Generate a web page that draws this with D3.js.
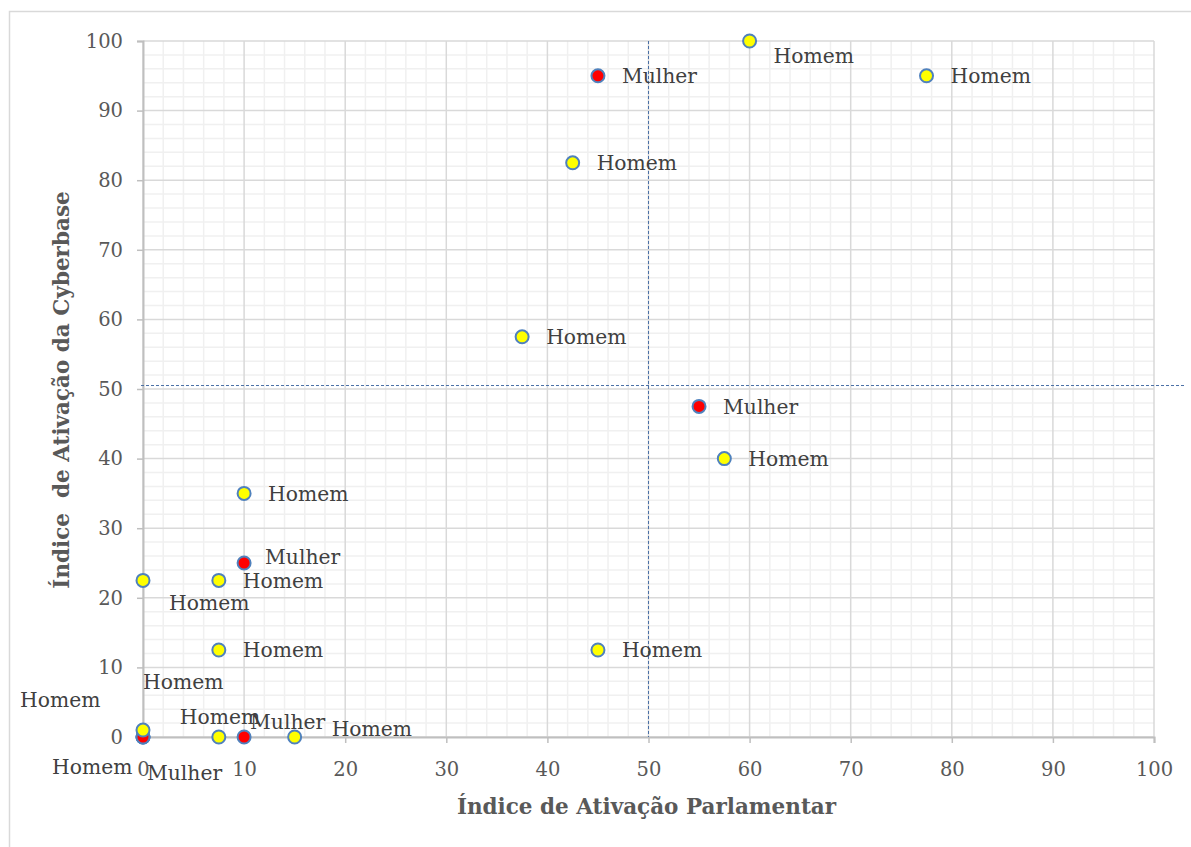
<!DOCTYPE html>
<meta charset="utf-8">
<style>
body{
  margin:0;
  background:#fff;
}
text{
  font-family:"DejaVu Serif", serif;
}
</style>
<body>
<script src="https://d3js.org/d3.v7.min.js"></script>
<script>
// points, drawn in this order (later ones on top)
var xValues = [60, 45, 77.5, 42.5, 37.5, 55, 57.5, 10, 10, 0, 7.5, 7.5, 45, 0, 0, 0, 0, 7.5, 10, 15];
var yValues = [100, 95, 95, 82.5, 57.5, 47.5, 40, 35, 25, 22.5, 22.5, 12.5, 12.5, 0, 0, 0, 1, 0, 0, 0];
var genders = ["Homem", "Mulher", "Homem", "Homem", "Homem", "Mulher", "Homem", "Homem", "Mulher", "Homem",
               "Homem", "Homem", "Homem", "Homem", "Homem", "Mulher", "Homem", "Homem", "Mulher", "Homem"];
// hand moved data labels (px, from the default right position)
var labelNudge = [[0,15],[0,0],[0,0],[0,0],[0,0],[0,0],[0,0],[0,0],[-3,-6],[2,22],
                  [0,0],[0,0],[0,0],[-147,-37],[-115,30],[-20,36],[-24,-48],[-63,-20],[-18,-15],[13,-8]];
var xTicks = [0, 10, 20, 30, 40, 50, 60, 70, 80, 90, 100];
var yTicks = [0, 10, 20, 30, 40, 50, 60, 70, 80, 90, 100];
var refX = 50;
var refY = 50.5;
var xTitle = "Índice de Ativação Parlamentar";
var yTitle = "Índice  de Ativação da Cyberbase";

var w = 1191, h = 847;
var pLeft = 143, pRight = 1154, pTop = 41, pBottom = 737;

var svg = d3.select("body")
  .append("svg")
  .attr("width", w)
  .attr("height", h);

// chart area border
svg.append("rect")
  .attr("x", 9.5)
  .attr("y", 11.5)
  .attr("width", w)
  .attr("height", h)
  .attr("fill", "none")
  .attr("stroke", "#d9d9d9")
  .attr("stroke-width", 1.5);

var x = d3.scaleLinear().domain([0, 100]).range([pLeft, pRight]);
var y = d3.scaleLinear().domain([0, 100]).range([pBottom, pTop]);

var minor = d3.range(0, 101, 2).filter(function(d) { return d % 10 != 0; });

//minor grid
svg.append("g").selectAll("line")
  .data(minor).enter().append("line")
  .attr("x1", function(d) { return x(d); })
  .attr("x2", function(d) { return x(d); })
  .attr("y1", pTop).attr("y2", pBottom)
  .attr("stroke", "#f0f0f0").attr("stroke-width", 1.5);
svg.append("g").selectAll("line")
  .data(minor).enter().append("line")
  .attr("y1", function(d) { return y(d); })
  .attr("y2", function(d) { return y(d); })
  .attr("x1", pLeft).attr("x2", pRight)
  .attr("stroke", "#f0f0f0").attr("stroke-width", 1.5);

//major grid
svg.append("g").selectAll("line")
  .data(xTicks).enter().append("line")
  .attr("x1", function(d) { return x(d); })
  .attr("x2", function(d) { return x(d); })
  .attr("y1", pTop).attr("y2", pBottom)
  .attr("stroke", "#d9d9d9").attr("stroke-width", 1.5);
svg.append("g").selectAll("line")
  .data(yTicks).enter().append("line")
  .attr("y1", function(d) { return y(d); })
  .attr("y2", function(d) { return y(d); })
  .attr("x1", pLeft).attr("x2", pRight)
  .attr("stroke", "#d9d9d9").attr("stroke-width", 1.5);

//axes
var xAxis = svg.append("g")
  .attr("transform", "translate(0," + pBottom + ")")
  .call(d3.axisBottom(x).tickValues(xTicks).tickSize(6).tickPadding(19));
var yAxis = svg.append("g")
  .attr("transform", "translate(" + pLeft + ",0)")
  .call(d3.axisLeft(y).tickValues(yTicks).tickSize(6).tickPadding(14));

[xAxis, yAxis].forEach(function(a) {
  a.select(".domain").attr("stroke", "#bfbfbf").attr("stroke-width", 2);
  a.selectAll(".tick line").attr("stroke", "#bfbfbf").attr("stroke-width", 1.5);
  a.selectAll(".tick text")
    .attr("fill", "#595959")
    .style("font-size", "19.5px")
    .style("font-family", "DejaVu Serif");
});

//dashed reference lines
svg.append("line")
  .attr("x1", x(refX)).attr("x2", x(refX))
  .attr("y1", pTop).attr("y2", pBottom)
  .attr("stroke", "#4a6fa5").attr("stroke-width", 1)
  .attr("stroke-dasharray", "3,2");
svg.append("line")
  .attr("x1", pLeft - 2).attr("x2", pRight + 30)
  .attr("y1", y(refY)).attr("y2", y(refY))
  .attr("stroke", "#4a6fa5").attr("stroke-width", 1)
  .attr("stroke-dasharray", "3,2");

var data = xValues.map(function(d, i) {
  return {x: d, y: yValues[i], g: genders[i], n: labelNudge[i]};
});

svg.append("g").selectAll("circle")
  .data(data).enter().append("circle")
  .attr("cx", function(d) { return x(d.x); })
  .attr("cy", function(d) { return y(d.y); })
  .attr("r", 6.5)
  .attr("fill", function(d) { return d.g == "Mulher" ? "#ff0000" : "#ffff00"; })
  .attr("stroke", "#4f81bd")
  .attr("stroke-width", 2);

svg.append("g").selectAll("text")
  .data(data).enter().append("text")
  .attr("x", function(d) { return x(d.x) + 24 + d.n[0]; })
  .attr("y", function(d) { return y(d.y) + d.n[1]; })
  .attr("dy", "0.35em")
  .attr("fill", "#404040")
  .style("font-size", "20.3px")
  .text(function(d) { return d.g; });

//axis titles
svg.append("text")
  .attr("x", (pLeft + pRight) / 2 - 2)
  .attr("y", 806)
  .attr("dy", "0.35em")
  .attr("text-anchor", "middle")
  .attr("fill", "#595959")
  .style("font-size", "21.5px")
  .style("font-weight", "bold")
  .text(xTitle);

svg.append("text")
  .attr("transform", "translate(61,390) rotate(-90)")
  .attr("dy", "0.35em")
  .attr("text-anchor", "middle")
  .attr("fill", "#595959")
  .style("font-size", "21.5px")
  .style("font-weight", "bold")
  .style("white-space", "pre")
  .text(yTitle);
</script>
</body>
